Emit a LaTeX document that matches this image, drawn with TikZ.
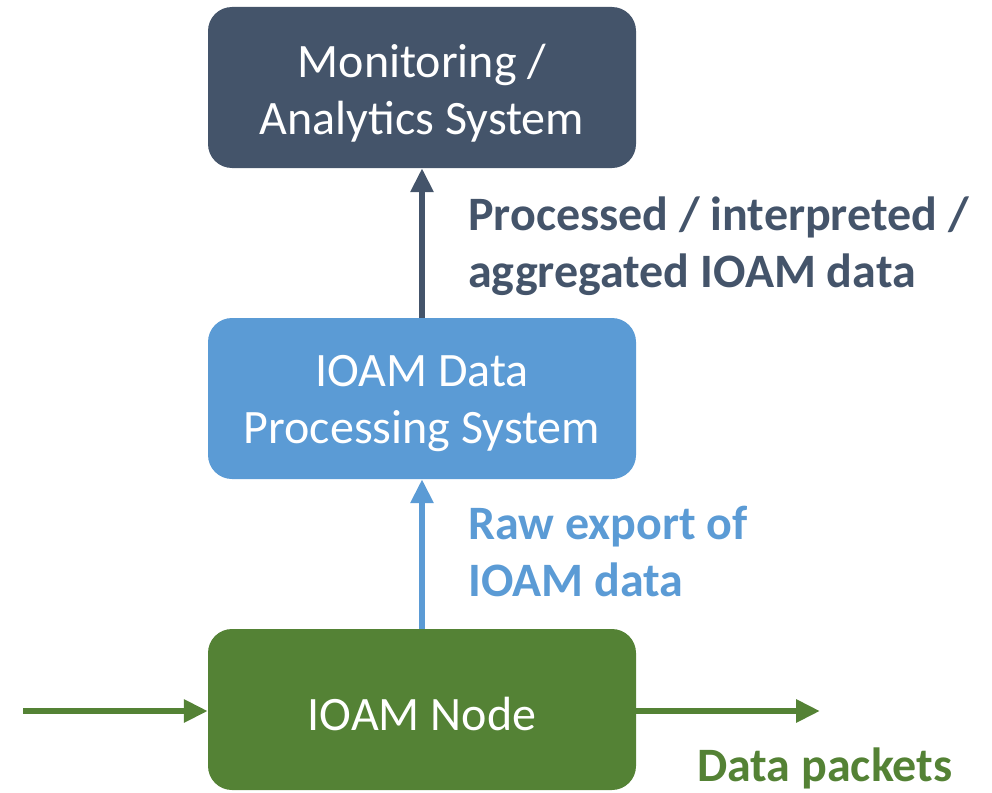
\documentclass[tikz,border=0pt]{standalone}
\usepackage{fontspec}
\setmainfont{Carlito}
\usetikzlibrary{arrows.meta}
\definecolor{slate}{HTML}{44546A}
\definecolor{skyblue}{HTML}{5B9BD5}
\definecolor{leaf}{HTML}{548235}
\tikzset{
  box/.style={draw=none, fill=#1, rounded corners=24pt, minimum width=428pt,
    minimum height=161pt, inner sep=0pt},
  boxtext/.style={text=white, align=center, font=\fontsize{48}{57}\selectfont, inner sep=0pt},
  flow/.style={line width=6pt, draw=#1, -{Triangle[width=22pt,length=24pt]}},
  note/.style={text=#1, font=\bfseries\fontsize{48}{57}\selectfont, align=left,
    anchor=north west, inner sep=0pt}
}
\begin{document}
\begin{tikzpicture}[x=1pt,y=-1pt]
  \useasboundingbox (0,0) rectangle (992,792);
  % the three stages, bottom to top
  \node[box=slate] (mon) at (422,87.5) {};
  \node[box=skyblue] (proc) at (422,398.5) {};
  \node[box=leaf] (ioam) at (422,709.5) {};
  \node[boxtext] (montext) at (422,93) {Monitoring /\\Analytics System};
  \node[boxtext] (proctext) at (422,404) {IOAM Data\\Processing System};
  \node[boxtext] (ioamtext) at (422,714) {IOAM Node};
  % packet flow through the node
  \coordinate (in) at (23,711);
  \coordinate (out) at (820,711);
  \draw[flow=slate] (proc.north) -- (mon.south);
  \draw[flow=skyblue] (ioam.north) -- (proc.south);
  \draw[flow=leaf] (in) -- (ioam.west |- in);
  \draw[flow=leaf] (ioam.east |- out) -- (out);
  % labels
  \node[note=slate] (lab1) at (468,197) {Processed / interpreted /\\aggregated IOAM data};
  \node[note=skyblue] (lab2) at (468,506) {Raw export of\\IOAM data};
  \node[note=leaf] (lab3) at (697,748) {Data packets};
\end{tikzpicture}
\end{document}
